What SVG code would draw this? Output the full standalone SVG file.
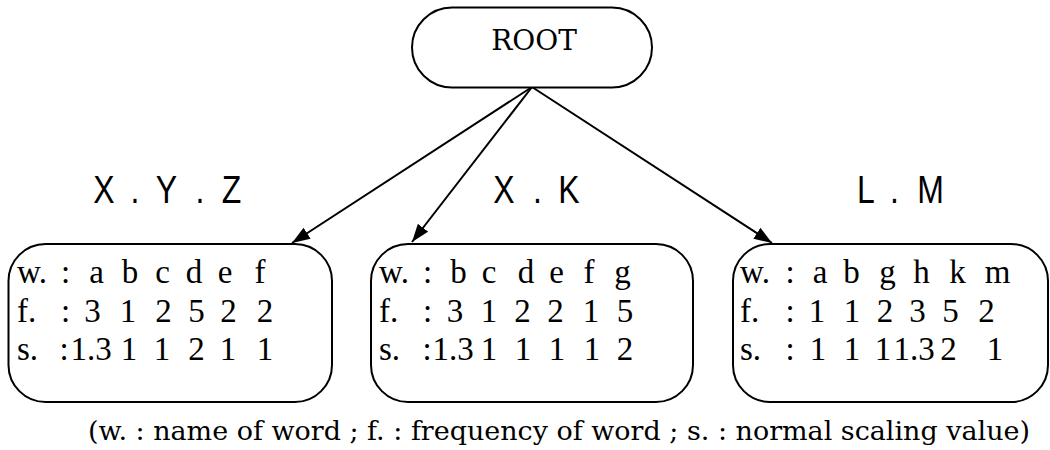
<svg xmlns="http://www.w3.org/2000/svg" width="1050" height="450" viewBox="0 0 1050 450">
<defs>
<marker id="ah" markerWidth="18" markerHeight="13" refX="18" refY="6.5" orient="auto" markerUnits="userSpaceOnUse">
<path d="M0,0 L18,6.5 L0,13 z" fill="#000"/>
</marker>
<style>
.box{fill:#fff;stroke:#000;stroke-width:2}
.cell{font-family:"Liberation Serif","Times New Roman",serif;font-size:33px;fill:#000}
.mid{text-anchor:middle}
.title{font-family:"Liberation Sans",Arial,sans-serif;font-size:39px;fill:#000;text-anchor:middle}
.edge{stroke:#000;stroke-width:2;fill:none;marker-end:url(#ah)}
.root{font-family:"DejaVu Serif","Liberation Serif",serif;font-size:28px;fill:#000;text-anchor:middle}
.note{font-family:"DejaVu Serif","Liberation Serif",serif;font-size:26px;fill:#000}
</style>
</defs>
<rect width="1050" height="450" fill="#fff"/>

<g id="connectors">
<line class="edge" x1="532" y1="87" x2="292" y2="243"/>
<line class="edge" x1="532" y1="87" x2="412" y2="242"/>
<line class="edge" x1="532" y1="87" x2="772" y2="243"/>
</g>

<g id="root">
<rect class="box" x="412" y="7.5" width="240" height="80" rx="40"/>
<text class="root" x="534" y="50">ROOT</text>
</g>

<g id="titles" transform="scale(0.82 1)">
<text class="title" y="203"><tspan x="126.8">X</tspan><tspan x="164.6">.</tspan><tspan x="203">Y</tspan><tspan x="243.9">.</tspan><tspan x="282.3">Z</tspan></text>
<text class="title" y="203"><tspan x="614.6">X</tspan><tspan x="655.5">.</tspan><tspan x="693.9">K</tspan></text>
<text class="title" y="203"><tspan x="1056">L</tspan><tspan x="1090.9">.</tspan><tspan x="1134.8">M</tspan></text>
</g>

<g id="xyz">
<rect class="box" x="8.5" y="244" width="323.5" height="158" rx="37"/>
<text class="cell" x="17" y="283">w.</text><text class="cell mid" x="65.5" y="283">:</text>
<text class="cell mid" y="283"><tspan x="96.5">a</tspan><tspan x="130">b</tspan><tspan x="162.5">c</tspan><tspan x="194">d</tspan><tspan x="225">e</tspan><tspan x="260">f</tspan></text>
<text class="cell" x="17" y="322">f.</text><text class="cell mid" x="65.5" y="322">:</text>
<text class="cell mid" y="322"><tspan x="92.5">3</tspan><tspan x="128">1</tspan><tspan x="163.5">2</tspan><tspan x="196.5">5</tspan><tspan x="228.5">2</tspan><tspan x="265">2</tspan></text>
<text class="cell" x="17" y="360">s.</text><text class="cell mid" x="64" y="360">:</text>
<text class="cell mid" y="360"><tspan x="91">1.3</tspan><tspan x="129">1</tspan><tspan x="162">1</tspan><tspan x="196.5">2</tspan><tspan x="228">1</tspan><tspan x="265">1</tspan></text>
</g>

<g id="xk">
<rect class="box" x="371" y="244" width="322" height="158" rx="37"/>
<text class="cell" x="379" y="283">w.</text><text class="cell mid" x="427.5" y="283">:</text>
<text class="cell mid" y="283"><tspan x="458.5">b</tspan><tspan x="489">c</tspan><tspan x="526">d</tspan><tspan x="556.5">e</tspan><tspan x="589">f</tspan><tspan x="622.5">g</tspan></text>
<text class="cell" x="379" y="322">f.</text><text class="cell mid" x="427.5" y="322">:</text>
<text class="cell mid" y="322"><tspan x="455">3</tspan><tspan x="489">1</tspan><tspan x="522.5">2</tspan><tspan x="555.5">2</tspan><tspan x="591">1</tspan><tspan x="625">5</tspan></text>
<text class="cell" x="379" y="360">s.</text><text class="cell mid" x="427" y="360">:</text>
<text class="cell mid" y="360"><tspan x="453">1.3</tspan><tspan x="489">1</tspan><tspan x="523">1</tspan><tspan x="557">1</tspan><tspan x="592">1</tspan><tspan x="625">2</tspan></text>
</g>

<g id="lm">
<rect class="box" x="733" y="244" width="315" height="158" rx="37"/>
<text class="cell" x="740" y="283">w.</text><text class="cell mid" x="790" y="283">:</text>
<text class="cell mid" y="283"><tspan x="820">a</tspan><tspan x="851.5">b</tspan><tspan x="887.5">g</tspan><tspan x="921.5">h</tspan><tspan x="957.5">k</tspan><tspan x="997.5">m</tspan></text>
<text class="cell" x="740" y="322">f.</text><text class="cell mid" x="790" y="322">:</text>
<text class="cell mid" y="322"><tspan x="817">1</tspan><tspan x="852">1</tspan><tspan x="885">2</tspan><tspan x="917.5">3</tspan><tspan x="950.5">5</tspan><tspan x="986.5">2</tspan></text>
<text class="cell" x="740" y="360">s.</text><text class="cell mid" x="790" y="360">:</text>
<text class="cell mid" y="360"><tspan x="818">1</tspan><tspan x="852">1</tspan><tspan x="883">1</tspan><tspan x="914">1.3</tspan><tspan x="948.5">2</tspan><tspan x="995">1</tspan></text>
</g>

<g id="legend">
<text class="note" x="88" y="440" textLength="942" lengthAdjust="spacingAndGlyphs">(w. : name of word ; f. : frequency of word ; s. : normal scaling value)</text>
</g>
</svg>
